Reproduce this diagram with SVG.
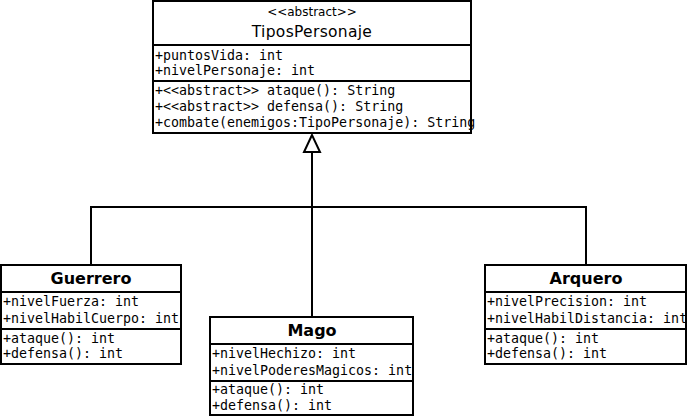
<svg xmlns="http://www.w3.org/2000/svg" width="688" height="418" viewBox="0 0 688 418">
<style>
.box{fill:#fff;stroke:#000;stroke-width:2}
.div{stroke:#000;stroke-width:2}
.m{font-family:"DejaVu Sans Mono",monospace;font-size:13.3px;fill:#000}
.t{font-family:"DejaVu Sans",sans-serif;font-size:16px;font-weight:bold;fill:#000;text-anchor:middle}
.c{font-family:"DejaVu Sans",sans-serif;fill:#000;text-anchor:middle}
.ln{fill:none;stroke:#000;stroke-width:2}
</style>
<rect width="688" height="418" fill="#fff"/>
<g id="connectors">
<polyline class="ln" points="312,152 312,317"/>
<polyline class="ln" points="91,265 91,207 586,207 586,265"/>
<polygon points="312,135 304,152 320,152" fill="#fff" stroke="#000" stroke-width="2"/>
</g>
<g id="TiposPersonaje">
<rect class="box" x="153" y="1" width="318" height="132"/>
<text class="c" x="312" y="16" font-size="12">&lt;&lt;abstract&gt;&gt;</text>
<text class="c" x="312" y="37" font-size="15.5" letter-spacing="0.3">TiposPersonaje</text>
<line class="div" x1="153" y1="45" x2="471" y2="45"/>
<text class="m" x="155" y="60">+puntosVida: int</text>
<text class="m" x="155" y="75">+nivelPersonaje: int</text>
<line class="div" x1="153" y1="81" x2="471" y2="81"/>
<text class="m" x="155" y="95">+&lt;&lt;abstract&gt;&gt; ataque(): String</text>
<text class="m" x="155" y="111">+&lt;&lt;abstract&gt;&gt; defensa(): String</text>
<text class="m" x="155" y="127">+combate(enemigos:TipoPersonaje): String</text>
</g>
<g id="Guerrero">
<rect class="box" x="1" y="265" width="180" height="99"/>
<text class="t" x="91" y="284">Guerrero</text>
<line class="div" x1="1" y1="292" x2="181" y2="292"/>
<text class="m" x="3" y="306">+nivelFuerza: int</text>
<text class="m" x="3" y="323">+nivelHabilCuerpo: int</text>
<line class="div" x1="1" y1="329" x2="181" y2="329"/>
<text class="m" x="3" y="343">+ataque(): int</text>
<text class="m" x="3" y="358">+defensa(): int</text>
</g>
<g id="Mago">
<rect class="box" x="210" y="317" width="203" height="98"/>
<text class="t" x="312" y="336">Mago</text>
<line class="div" x1="210" y1="344" x2="413" y2="344"/>
<text class="m" x="212" y="358">+nivelHechizo: int</text>
<text class="m" x="212" y="375">+nivelPoderesMagicos: int</text>
<line class="div" x1="210" y1="381" x2="413" y2="381"/>
<text class="m" x="212" y="394">+ataque(): int</text>
<text class="m" x="212" y="410">+defensa(): int</text>
</g>
<g id="Arquero">
<rect class="box" x="485" y="265" width="201" height="99"/>
<text class="t" x="586" y="284">Arquero</text>
<line class="div" x1="485" y1="292" x2="686" y2="292"/>
<text class="m" x="487" y="306">+nivelPrecision: int</text>
<text class="m" x="487" y="323">+nivelHabilDistancia: int</text>
<line class="div" x1="485" y1="329" x2="686" y2="329"/>
<text class="m" x="487" y="343">+ataque(): int</text>
<text class="m" x="487" y="358">+defensa(): int</text>
</g>
</svg>
